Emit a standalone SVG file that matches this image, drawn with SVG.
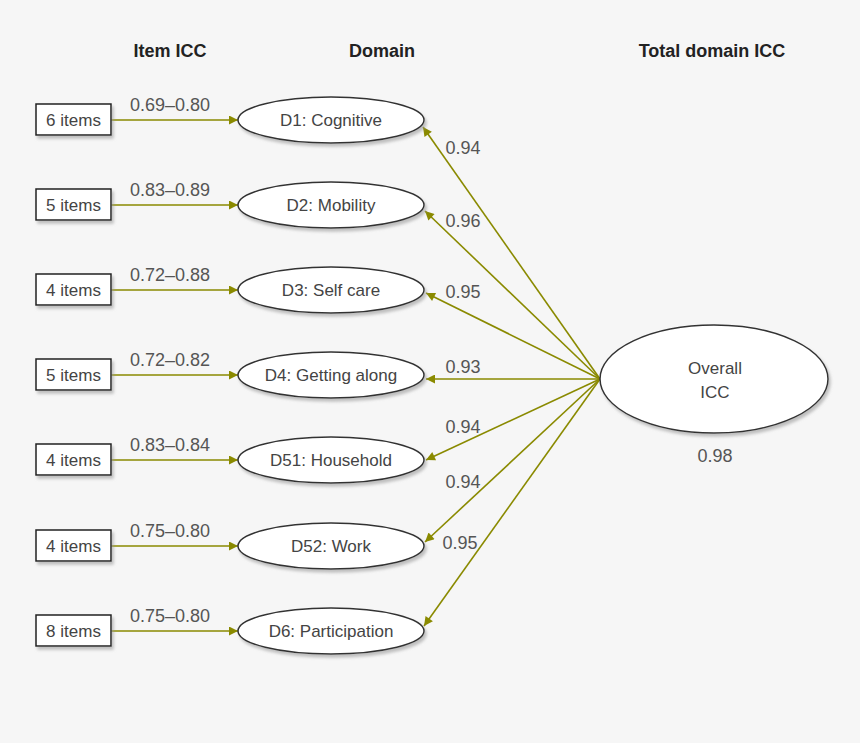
<svg xmlns="http://www.w3.org/2000/svg" width="860" height="743" viewBox="0 0 860 743">
<style>
.bg{fill:#f6f6f6}
.box{fill:#fff;stroke:#222;stroke-width:1.5;filter:url(#sh)}
.ell{fill:#fff;stroke:#333;stroke-width:1.5;filter:url(#sh)}
.t{font-family:"Liberation Sans",Arial,sans-serif;font-size:17px;fill:#444;text-anchor:middle}
.lbl{font-family:"Liberation Sans",Arial,sans-serif;font-size:18px;fill:#555;text-anchor:middle}
.hd{font-family:"Liberation Sans",Arial,sans-serif;font-size:18px;font-weight:bold;fill:#222;text-anchor:middle}
.c{stroke:#8a8a00;stroke-width:1.6;fill:none;marker-end:url(#ah)}
</style>
<defs>
<filter id="sh" x="-20%" y="-20%" width="140%" height="160%">
<feDropShadow dx="2" dy="3" stdDeviation="1.5" flood-color="#999" flood-opacity="0.6"/>
</filter>
<marker id="ah" viewBox="0 0 10 10" refX="10" refY="5" markerWidth="11" markerHeight="9" markerUnits="userSpaceOnUse" orient="auto">
<path d="M0,0 L10,5 L0,10 z" fill="#8a8a00"/>
</marker>
</defs>
<rect class="bg" x="0" y="0" width="860" height="743"/>
<g id="headers">
<text class="hd" x="170" y="57">Item ICC</text>
<text class="hd" x="382" y="57">Domain</text>
<text class="hd" x="712" y="57">Total domain ICC</text>
</g>
<g id="connectors">
<line class="c" x1="111" y1="120" x2="238" y2="120"/>
<line class="c" x1="111" y1="205" x2="238" y2="205"/>
<line class="c" x1="111" y1="290" x2="238" y2="290"/>
<line class="c" x1="111" y1="375" x2="238" y2="375"/>
<line class="c" x1="111" y1="460" x2="238" y2="460"/>
<line class="c" x1="111" y1="546" x2="238" y2="546"/>
<line class="c" x1="111" y1="631" x2="238" y2="631"/>
<line class="c" x1="600" y1="379" x2="423" y2="127"/>
<line class="c" x1="600" y1="379" x2="425" y2="211"/>
<line class="c" x1="600" y1="379" x2="426" y2="293"/>
<line class="c" x1="600" y1="379" x2="426" y2="379"/>
<line class="c" x1="600" y1="379" x2="426" y2="460"/>
<line class="c" x1="600" y1="379" x2="425" y2="542"/>
<line class="c" x1="600" y1="379" x2="424" y2="626"/>
<text class="lbl" x="170" y="111">0.69–0.80</text>
<text class="lbl" x="170" y="196">0.83–0.89</text>
<text class="lbl" x="170" y="281">0.72–0.88</text>
<text class="lbl" x="170" y="366">0.72–0.82</text>
<text class="lbl" x="170" y="451">0.83–0.84</text>
<text class="lbl" x="170" y="537">0.75–0.80</text>
<text class="lbl" x="170" y="622">0.75–0.80</text>
<text class="lbl" x="463" y="154">0.94</text>
<text class="lbl" x="463" y="227">0.96</text>
<text class="lbl" x="463" y="298">0.95</text>
<text class="lbl" x="463" y="373">0.93</text>
<text class="lbl" x="463" y="433">0.94</text>
<text class="lbl" x="463" y="488">0.94</text>
<text class="lbl" x="460" y="549">0.95</text>
</g>
<g id="box1"><rect class="box" x="36" y="104" width="75" height="31"/><text class="t" x="73.5" y="126">6 items</text></g>
<g id="box2"><rect class="box" x="36" y="189" width="75" height="31"/><text class="t" x="73.5" y="211">5 items</text></g>
<g id="box3"><rect class="box" x="36" y="274" width="75" height="31"/><text class="t" x="73.5" y="296">4 items</text></g>
<g id="box4"><rect class="box" x="36" y="359" width="75" height="31"/><text class="t" x="73.5" y="381">5 items</text></g>
<g id="box5"><rect class="box" x="36" y="444" width="75" height="31"/><text class="t" x="73.5" y="466">4 items</text></g>
<g id="box6"><rect class="box" x="36" y="530" width="75" height="31"/><text class="t" x="73.5" y="552">4 items</text></g>
<g id="box7"><rect class="box" x="36" y="615" width="75" height="31"/><text class="t" x="73.5" y="637">8 items</text></g>
<g id="d1"><ellipse class="ell" cx="331" cy="120" rx="93" ry="23"/><text class="t" x="331" y="126">D1: Cognitive</text></g>
<g id="d2"><ellipse class="ell" cx="331" cy="205" rx="93" ry="23"/><text class="t" x="331" y="211">D2: Mobility</text></g>
<g id="d3"><ellipse class="ell" cx="331" cy="290" rx="93" ry="23"/><text class="t" x="331" y="296">D3: Self care</text></g>
<g id="d4"><ellipse class="ell" cx="331" cy="375" rx="93" ry="23"/><text class="t" x="331" y="381">D4: Getting along</text></g>
<g id="d51"><ellipse class="ell" cx="331" cy="460" rx="93" ry="23"/><text class="t" x="331" y="466">D51: Household</text></g>
<g id="d52"><ellipse class="ell" cx="331" cy="546" rx="93" ry="23"/><text class="t" x="331" y="552">D52: Work</text></g>
<g id="d6"><ellipse class="ell" cx="331" cy="631" rx="93" ry="23"/><text class="t" x="331" y="637">D6: Participation</text></g>
<g id="overall"><ellipse class="ell" cx="714" cy="379" rx="114" ry="54"/><text class="t" x="715" y="374">Overall</text><text class="t" x="715" y="398">ICC</text><text class="lbl" x="715" y="462">0.98</text></g>
</svg>
